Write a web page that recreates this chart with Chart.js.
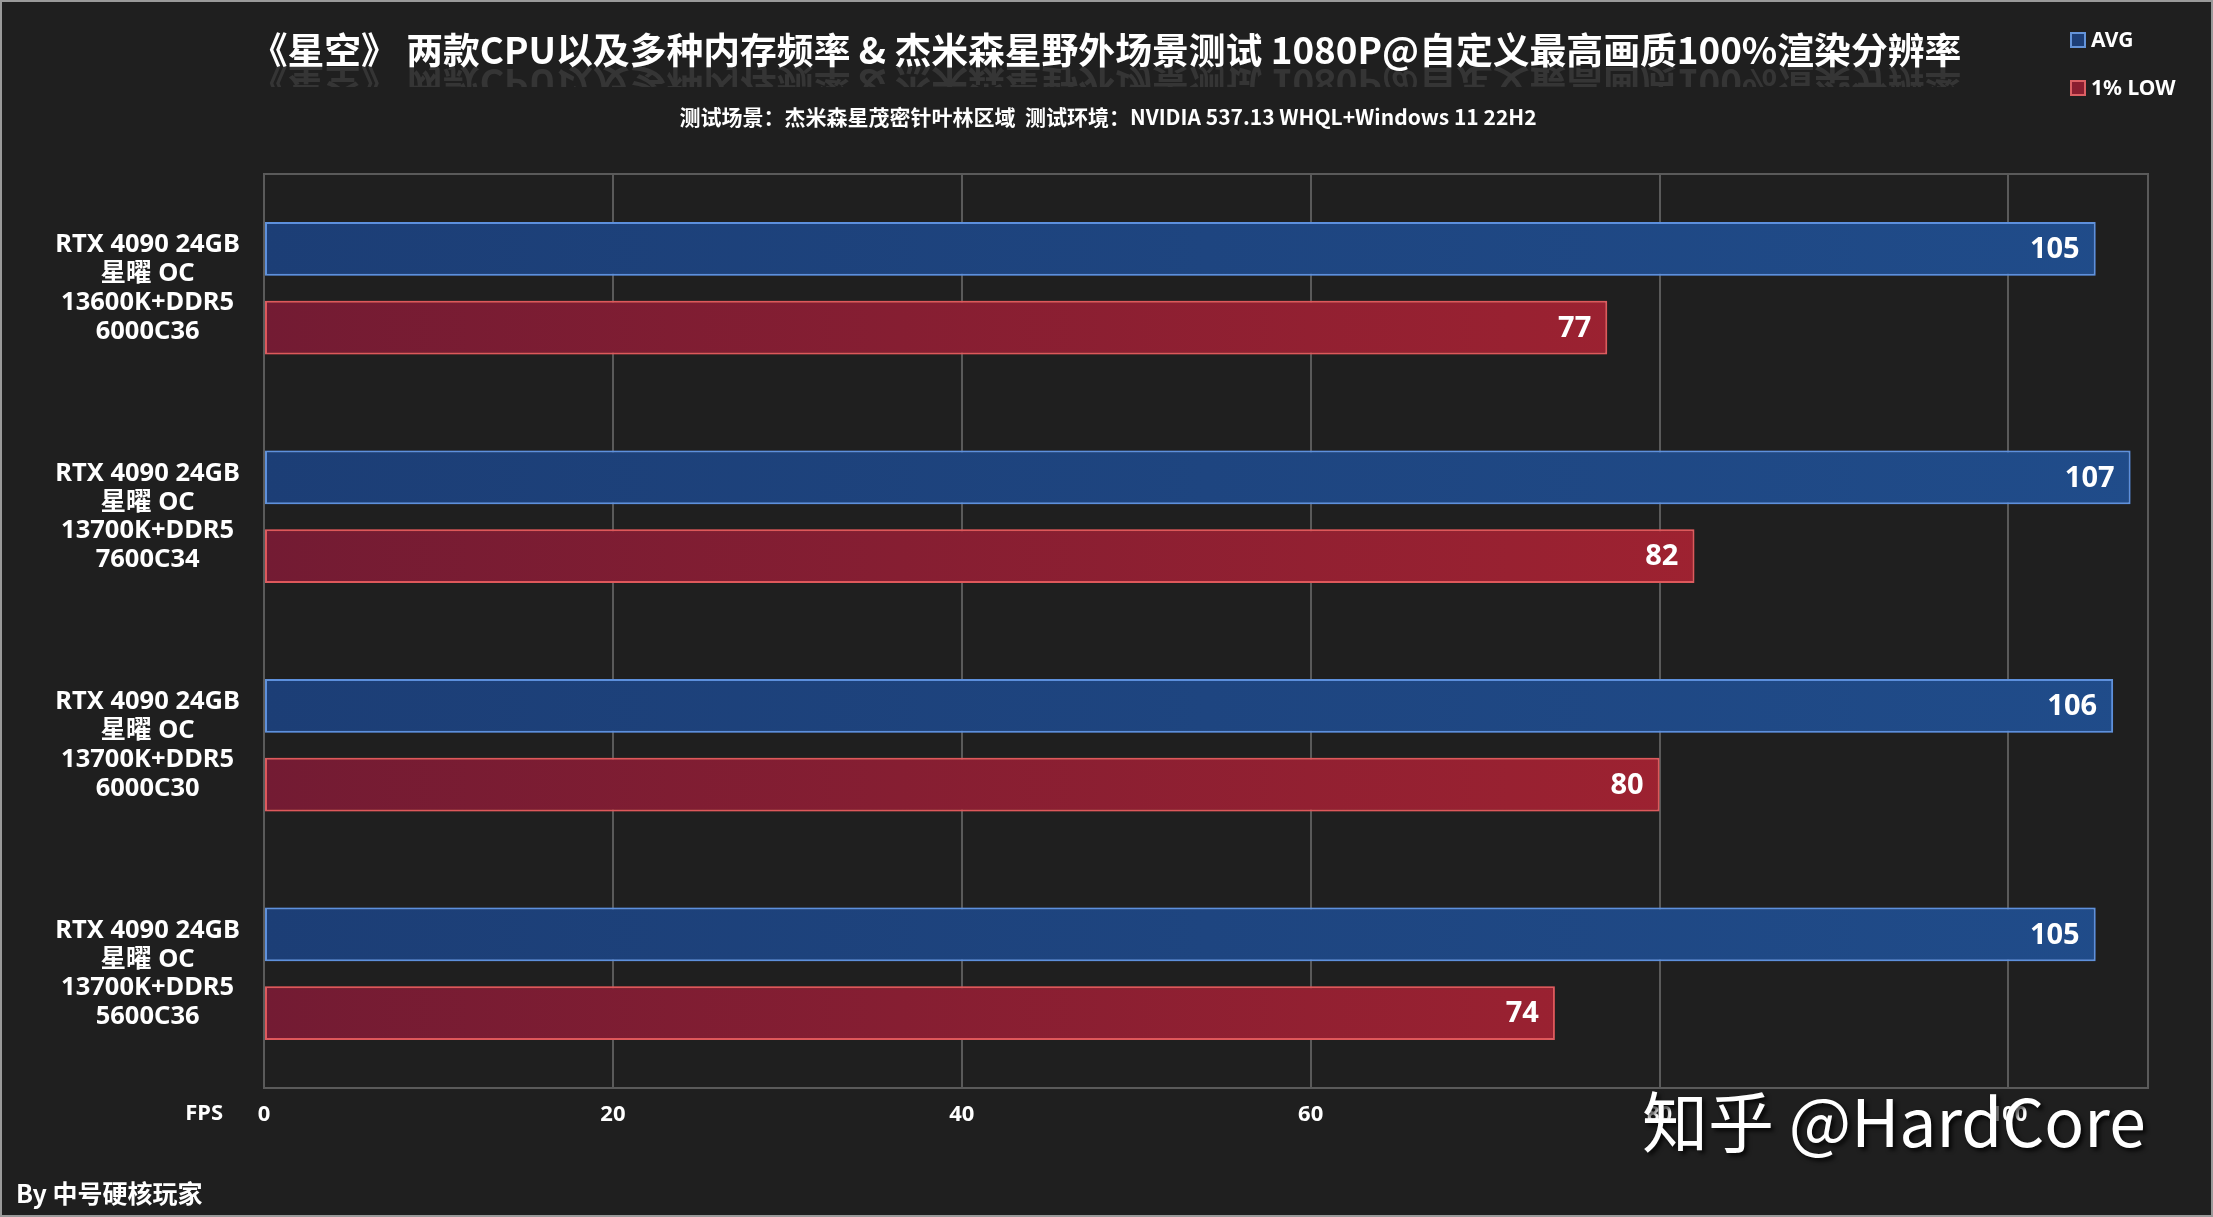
<!DOCTYPE html>
<html>
<head>
<meta charset="utf-8">
<script src="https://cdn.jsdelivr.net/npm/chart.js@4.4.0/dist/chart.umd.min.js"></script>
<style>
  html, body { margin: 0; padding: 0; background: #1f1f1f; overflow: hidden; }
  #wrap { width: 2213px; height: 1217px; position: relative; }
</style>
</head>
<body>
<div id="wrap"><canvas id="chart"></canvas></div>
<script>
// Data
const categories = [
    ['RTX 4090 24GB', '星曜 OC', '13600K+DDR5', '6000C36'],
    ['RTX 4090 24GB', '星曜 OC', '13700K+DDR5', '7600C34'],
    ['RTX 4090 24GB', '星曜 OC', '13700K+DDR5', '6000C30'],
    ['RTX 4090 24GB', '星曜 OC', '13700K+DDR5', '5600C36']
];
const seriesNames = ['AVG', '1% LOW'];
const avgFps = [105, 107, 106, 105];
const lowFps = [77, 82, 80, 74];
const xTickValues = [0, 20, 40, 60, 80, 100];
const xMax = 108;

const titleText = '《星空》 两款CPU以及多种内存频率 & 杰米森星野外场景测试 1080P@自定义最高画质100%渲染分辨率';
const subtitleText = '测试场景：杰米森星茂密针叶林区域  测试环境：NVIDIA 537.13 WHQL+Windows 11 22H2';

const FONT = '"Noto Sans", "Noto Sans CJK SC", sans-serif';
const CJK = '"Noto Sans CJK SC", "Noto Sans", sans-serif';

function hGradient(ctx, area, c1, c2) {
    const g = ctx.createLinearGradient(area.left, 0, area.right, 0);
    g.addColorStop(0, c1);
    g.addColorStop(1, c2);
    return g;
}

const colors = {
    avgFill: (c) => c.chart.chartArea ? hGradient(c.chart.ctx, c.chart.chartArea, '#1c3e76', '#204c8a') : '#1e457e',
    lowFill: (c) => c.chart.chartArea ? hGradient(c.chart.ctx, c.chart.chartArea, '#731b33', '#ab2430') : '#8e1f31',
    avgBorder: '#6494da',
    lowBorder: '#dc6064'
};

// background + frame
const backdrop = {
    id: 'backdrop',
    beforeDraw(chart) {
        const ctx = chart.ctx;
        ctx.save();
        ctx.fillStyle = '#1f1f1f';
        ctx.fillRect(0, 0, chart.width, chart.height);
        ctx.strokeStyle = '#9a9a9a';
        ctx.lineWidth = 2;
        ctx.strokeRect(1, 1, chart.width - 2, chart.height - 2);
        ctx.restore();
    },
    beforeDatasetsDraw(chart) {
        const a = chart.chartArea, ctx = chart.ctx;
        ctx.save();
        ctx.strokeStyle = '#5a5a5a';
        ctx.lineWidth = 2;
        ctx.strokeRect(a.left, a.top, a.right - a.left, a.bottom - a.top);
        ctx.restore();
    }
};

// glow around bars
const glow = {
    id: 'glow',
    beforeDatasetDraw(chart, args) {
        const ctx = chart.ctx;
        ctx.save();
        ctx.shadowColor = args.index === 0 ? 'rgba(70,130,230,0.55)' : 'rgba(230,60,60,0.55)';
        ctx.shadowBlur = 12;
    },
    afterDatasetDraw(chart) {
        chart.ctx.restore();
    }
};

// value labels inside bar ends
const valueLabels = {
    id: 'valueLabels',
    afterDatasetsDraw(chart) {
        const ctx = chart.ctx;
        ctx.save();
        ctx.font = 'bold 29px ' + FONT;
        ctx.fillStyle = '#ffffff';
        ctx.textAlign = 'right';
        ctx.textBaseline = 'middle';
        chart.data.datasets.forEach((ds, i) => {
            chart.getDatasetMeta(i).data.forEach((bar, j) => {
                ctx.fillText(String(ds.data[j]), bar.x - 16, bar.y + 1);
            });
        });
        ctx.restore();
    }
};

// titles, legend, axis name, watermark, credit
const decorations = {
    id: 'decorations',
    afterDraw(chart) {
        const ctx = chart.ctx;
        const cx = 1106;
        ctx.save();
        // title
        ctx.font = 'bold 36.8px ' + CJK;
        ctx.textAlign = 'center';
        ctx.textBaseline = 'alphabetic';
        ctx.fillStyle = '#ffffff';
        ctx.fillText(titleText, cx, 64);
        // faint reflection
        ctx.save();
        ctx.beginPath();
        ctx.rect(0, 67, chart.width, 20);
        ctx.clip();
        ctx.translate(0, 133);
        ctx.scale(1, -1);
        ctx.globalAlpha = 0.1;
        ctx.fillText(titleText, cx, 64);
        ctx.restore();
        // subtitle
        ctx.font = 'bold 21px ' + CJK;
        ctx.fillStyle = '#ffffff';
        ctx.textBaseline = 'middle';
        ctx.fillText(subtitleText, 1108, 117);

        // legend
        const items = [
            { name: seriesNames[0], fill: '#1d3f78', border: colors.avgBorder, y: 40 },
            { name: seriesNames[1], fill: '#8a1e30', border: colors.lowBorder, y: 88 }
        ];
        ctx.font = 'bold 21px ' + FONT;
        ctx.textAlign = 'left';
        items.forEach(it => {
            ctx.fillStyle = it.fill;
            ctx.fillRect(2071, it.y - 7, 14, 14);
            ctx.strokeStyle = it.border;
            ctx.lineWidth = 2;
            ctx.strokeRect(2071, it.y - 7, 14, 14);
            ctx.fillStyle = '#ffffff';
            ctx.fillText(it.name, 2091, it.y + 1);
        });

        // axis name
        ctx.font = 'bold 22px ' + FONT;
        ctx.textAlign = 'right';
        ctx.fillStyle = '#ffffff';
        ctx.fillText('FPS', 223, 1114);

        // credit
        ctx.font = 'bold 25px ' + CJK;
        ctx.textAlign = 'left';
        ctx.fillText('By 中号硬核玩家', 16, 1193);

        // watermark
        ctx.font = '66px ' + CJK;
        ctx.shadowColor = 'rgba(0,0,0,0.8)';
        ctx.shadowOffsetX = 3;
        ctx.shadowOffsetY = 3;
        ctx.shadowBlur = 4;
        ctx.fillStyle = '#ffffff';
        ctx.textBaseline = 'middle';
        ctx.fillText('知乎 @HardCore', 1642, 1122);
        ctx.restore();
    }
};

const ctx = document.getElementById('chart').getContext('2d');
new Chart(ctx, {
    type: 'bar',
    data: {
        labels: categories,
        datasets: [{
            label: seriesNames[0],
            data: avgFps,
            backgroundColor: colors.avgFill,
            borderColor: colors.avgBorder,
            borderWidth: 2,
            borderSkipped: false
        }, {
            label: seriesNames[1],
            data: lowFps,
            backgroundColor: colors.lowFill,
            borderColor: colors.lowBorder,
            borderWidth: 2,
            borderSkipped: false
        }]
    },
    options: {
        indexAxis: 'y',
        responsive: true,
        maintainAspectRatio: false,
        animation: false,
        categoryPercentage: 0.69,
        barPercentage: 0.68,
        layout: { padding: { top: 174, right: 65, left: 0, bottom: 0 } },
        plugins: {
            legend: { display: false },
            tooltip: { enabled: false }
        },
        scales: {
            x: {
                min: 0,
                max: xMax,
                afterBuildTicks: (scale) => {
                    scale.ticks = xTickValues.map(v => ({ value: v }));
                },
                afterFit: (scale) => { scale.height = 129; },
                grid: { color: '#5a5a5a', lineWidth: 2, drawTicks: false },
                border: { display: false },
                ticks: {
                    color: '#ffffff',
                    padding: 14,
                    font: { family: FONT, size: 22, weight: 'bold' }
                }
            },
            y: {
                afterFit: (scale) => { scale.width = 264; },
                grid: { display: false, drawTicks: false },
                border: { display: false },
                ticks: {
                    color: '#ffffff',
                    crossAlign: 'center',
                    padding: 24,
                    font: { family: FONT, size: 25.5, weight: 'bold', lineHeight: 1.13 }
                }
            }
        }
    },
    plugins: [backdrop, glow, valueLabels, decorations]
});
</script>
</body>
</html>
